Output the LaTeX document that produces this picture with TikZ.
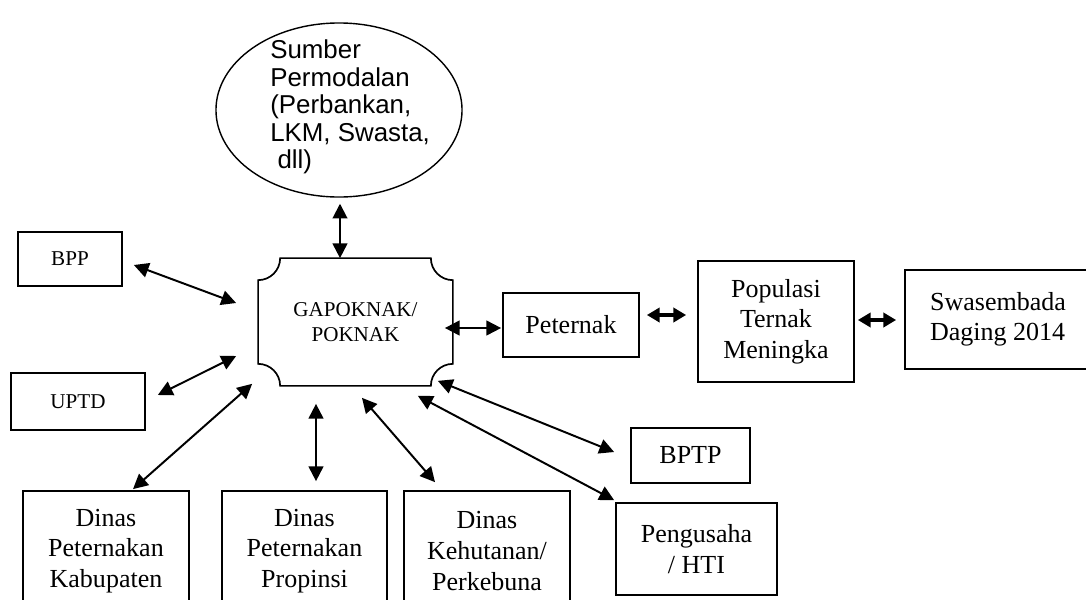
\documentclass[tikz,border=0pt]{standalone}
\usepackage{fontspec}
\setmainfont{Liberation Serif}
\newfontfamily\sumberfont{Liberation Sans}
\usetikzlibrary{arrows.meta, shapes.geometric, calc}

\tikzset{
  unitbox/.style={draw, line width=1.2pt, inner sep=0pt, align=center, font=\fontsize{18.5}{21.7}\selectfont},
  smallbox/.style={unitbox, font=\fontsize{15}{17.8}\selectfont},
  link/.style={line width=1.4pt, {Triangle[length=10.5pt,width=10.5pt]}-{Triangle[length=10.5pt,width=10.5pt]}},
  biglink/.style={line width=2.6pt, {Triangle[length=9pt,width=10pt]}-{Triangle[length=9pt,width=10pt]}}
}

\begin{document}
\begin{tikzpicture}[x=0.025cm, y=-0.025cm]
\useasboundingbox (0,0) rectangle (1086,599);
\clip (0,0) rectangle (1086,599);

% sumber permodalan
\node[ellipse, draw, line width=1pt, minimum width=6.15cm, minimum height=4.35cm, inner sep=0pt] (sumber) at (339,110) {};
\node[anchor=west, align=left, inner sep=0pt, font=\sumberfont\fontsize{18.4}{19.5}\selectfont] (sumbertext) at (270,107) {Sumber\\Permodalan\\(Perbankan,\\LKM, Swasta,\\\hspace*{0.28em}dll)};

% gapoknak
\node[smallbox, draw=none, minimum width=4.825cm, minimum height=3.15cm] (gap) at (355.5,322) {GAPOKNAK/\\POKNAK};
\draw[line width=1.2pt] ([xshift=0.55cm]gap.north west) -- ([xshift=-0.55cm]gap.north east)
  arc[start angle=180, end angle=270, radius=0.55cm] -- ([yshift=0.55cm]gap.south east)
  arc[start angle=90, end angle=180, radius=0.55cm] -- ([xshift=0.55cm]gap.south west)
  arc[start angle=0, end angle=90, radius=0.55cm] -- ([yshift=-0.55cm]gap.north west)
  arc[start angle=270, end angle=360, radius=0.55cm] -- cycle;

\node[smallbox, minimum width=2.6cm, minimum height=1.35cm] (bpp) at (70,259) {BPP};
\node[smallbox, minimum width=3.35cm, minimum height=1.425cm] (uptd) at (78,401.5) {UPTD};

\node[unitbox, minimum width=3.4cm, minimum height=1.6cm] (peternak) at (571,325) {Peternak};
\node[unitbox, minimum width=3.9cm, minimum height=3.025cm] (populasi) at (776,321.5) {Populasi\\Ternak\\Meningka};
\node[unitbox, align=left, minimum width=4.65cm, minimum height=2.475cm] (swasembada) at (998,319.5) {Swasembada\\Daging 2014};

\node[unitbox, minimum width=2.975cm, minimum height=1.375cm] (bptp) at (690.5,455.5) {BPTP};
\node[unitbox, minimum width=4.025cm, minimum height=2.3cm] (pengusaha) at (696.5,549) {Pengusaha\\/ HTI};

\node[unitbox, minimum width=4.15cm, minimum height=3cm] (dinaskab) at (106,551) {Dinas\\Peternakan\\Kabupaten};
\node[unitbox, minimum width=4.125cm, minimum height=3cm] (dinasprop) at (304.5,551) {Dinas\\Peternakan\\Propinsi};
\node[unitbox, minimum width=4.15cm, minimum height=3cm] (dinaskeh) at (487,551) {Dinas\\Kehutanan/\\Perkebuna};

% hubungan
\draw[link] ($(sumber.south)+(1,6)$) -- ($(gap.north)+(-15.5,0)$);
\draw[link] ($(bpp.east)+(11,6)$) -- ($(gap.west)+(-22,-19)$);
\draw[link] ($(uptd.east)+(12,-6.5)$) -- ($(gap.west)+(-22,34)$);
\draw[link] ($(dinaskab.north)+(27,-1)$) -- ($(gap.south west)+(-6,-2)$);
\draw[link] ($(dinasprop.north)+(11.5,-9)$) -- ($(gap.south)+(-39.5,18)$);
\draw[link] ($(dinaskeh.north)+(-52,-8)$) -- ($(gap.south)+(6.5,12)$);
\draw[link] ($(gap.south east)+(-15,-5)$) -- ($(bptp.west)+(-16,-3.5)$);
\draw[link] ($(gap.south east)+(-35,10)$) -- ($(pengusaha.north west)+(-1,-2)$);
\draw[link] ($(gap.east)+(-8,6)$) -- ($(peternak.west)+(-1,3)$);
\draw[biglink] ($(peternak.east)+(7,-10)$) -- ($(populasi.west)+(-11,-6.5)$);
\draw[biglink] ($(populasi.east)+(3,-1.5)$) -- ($(swasembada.west)+(-8,0.5)$);

\end{tikzpicture}
\end{document}
